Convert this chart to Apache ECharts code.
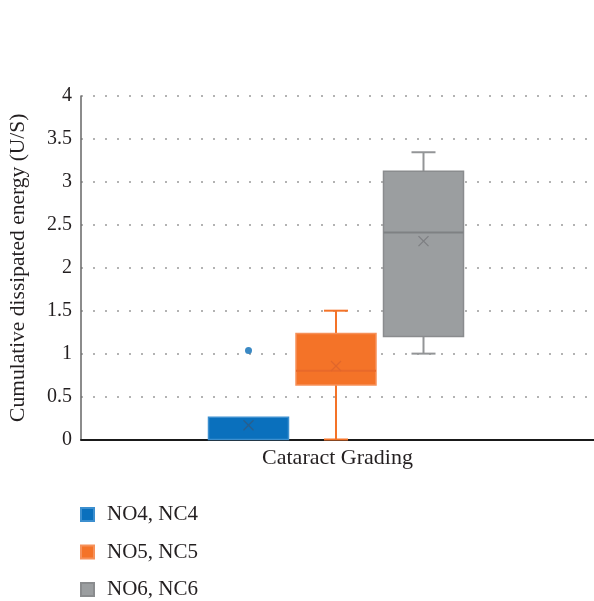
<!DOCTYPE html>
<html>
<head>
<meta charset="utf-8">
<script src="https://cdn.jsdelivr.net/npm/echarts@6/dist/echarts.min.js"></script>
<style>html,body{margin:0;padding:0;background:#fff;}#c{width:594px;height:601px;}</style>
</head>
<body>
<div id="c"></div>
<script>
// ---- data ----
const categories = ['Cataract Grading'];
const seriesNames = ['NO4, NC4', 'NO5, NC5', 'NO6, NC6'];
// [min, Q1, median, Q3, max, mean]
const boxNO4 = [0, 0, 0, 0.26, 0.26, 0.165];
const boxNO5 = [0, 0.635, 0.80, 1.235, 1.50, 0.855];
const boxNO6 = [1.00, 1.20, 2.41, 3.125, 3.345, 2.31];
const outliersNO4 = [1.035];
const yTicks = {min: 0, max: 4, interval: 0.5};

// ---- styles ----
const FONT = 'Liberation Serif';
const TEXT = '#231f20';
const styles = [
  {fill: '#0a70bd', stroke: '#3c8fcf', median: '#0a70bd', whisker: '#0a70bd', mean: '#2a5f8c', offset: -89},
  {fill: '#f47328', stroke: '#f6915a', median: '#e8692a', whisker: '#f47328', mean: '#e0672b', offset: -1.5},
  {fill: '#9b9ea0', stroke: '#8a8c8e', median: '#7f8183', whisker: '#939597', mean: '#7d7f81', offset: 86}
];
const BOX_W = 80, CAP_W = 24;

const boxes = [boxNO4, boxNO5, boxNO6];

function makeRender(si) {
  const st = styles[si];
  return function (params, api) {
    const cat = api.value(0);
    const cx = api.coord([cat, 0])[0] + st.offset;
    const Y = v => api.coord([cat, v])[1];
    const mn = api.value(1), q1 = api.value(2), md = api.value(3), q3 = api.value(4), mx = api.value(5), mean = api.value(6);
    const children = [];
    const lw = 2;
    if (mx > q3) {
      children.push({type: 'line', shape: {x1: cx, y1: Y(q3), x2: cx, y2: Y(mx)}, style: {stroke: st.whisker, lineWidth: lw}});
      children.push({type: 'line', shape: {x1: cx - CAP_W / 2, y1: Y(mx), x2: cx + CAP_W / 2, y2: Y(mx)}, style: {stroke: st.whisker, lineWidth: lw}});
    }
    if (mn < q1) {
      children.push({type: 'line', shape: {x1: cx, y1: Y(q1), x2: cx, y2: Y(mn)}, style: {stroke: st.whisker, lineWidth: lw}});
      children.push({type: 'line', shape: {x1: cx - CAP_W / 2, y1: Y(mn), x2: cx + CAP_W / 2, y2: Y(mn)}, style: {stroke: st.whisker, lineWidth: lw}});
    }
    const yTop = Y(q3), yBot = Y(q1);
    children.push({type: 'rect', shape: {x: cx - BOX_W / 2, y: yTop, width: BOX_W, height: yBot - yTop},
      style: {fill: st.fill, stroke: st.stroke, lineWidth: 1.5}});
    if (md > q1 && md < q3) {
      children.push({type: 'line', shape: {x1: cx - BOX_W / 2, y1: Y(md), x2: cx + BOX_W / 2, y2: Y(md)}, style: {stroke: st.median, lineWidth: 2}});
    }
    const ym = Y(mean), s = 5;
    children.push({type: 'line', shape: {x1: cx - s, y1: ym - s, x2: cx + s, y2: ym + s}, style: {stroke: st.mean, lineWidth: 1.3}});
    children.push({type: 'line', shape: {x1: cx - s, y1: ym + s, x2: cx + s, y2: ym - s}, style: {stroke: st.mean, lineWidth: 1.3}});
    return {type: 'group', children: children};
  };
}

const series = boxes.map((b, i) => ({
  name: seriesNames[i],
  type: 'custom',
  renderItem: makeRender(i),
  itemStyle: {color: styles[i].fill, borderColor: styles[i].stroke, borderWidth: 1},
  encode: {x: 0, y: [1, 2, 3, 4, 5]},
  data: [[0].concat(b)],
  z: 3
}));
series.push({
  name: 'outliers',
  type: 'scatter',
  symbol: 'circle',
  symbolSize: 7,
  symbolOffset: [styles[0].offset, 0],
  itemStyle: {color: '#0a6cb5'},
  data: outliersNO4.map(v => [0, v]),
  z: 4
});

const chart = echarts.init(document.getElementById('c'), null, {renderer: 'canvas'});
chart.setOption({
  animation: false,
  backgroundColor: '#fff',
  textStyle: {fontFamily: FONT, color: TEXT},
  grid: {left: 81, right: 0, top: 96, bottom: 161.5, containLabel: false, outerBoundsMode: 'none'},
  legend: {
    data: seriesNames,
    orient: 'vertical',
    left: 80,
    top: 504,
    height: 200,
    padding: 0,
    icon: 'rect',
    itemWidth: 13,
    itemHeight: 13,
    itemGap: 16.5,
    textStyle: {fontFamily: FONT, fontSize: 21, color: TEXT, padding: [0, 0, 0, 8]}
  },
  xAxis: {
    type: 'category',
    data: categories,
    axisLine: {lineStyle: {color: '#1a1a1a', width: 2}},
    axisTick: {show: false},
    axisLabel: {fontFamily: FONT, fontSize: 22, color: TEXT, margin: 8},
    splitLine: {show: false}
  },
  yAxis: {
    type: 'value',
    min: yTicks.min,
    max: yTicks.max,
    interval: yTicks.interval,
    name: 'Cumulative dissipated energy (U/S)',
    nameLocation: 'middle',
    nameGap: 52,
    nameTextStyle: {fontFamily: FONT, fontSize: 21.5, color: TEXT},
    axisLine: {show: true, lineStyle: {color: '#666', width: 1.5}},
    axisTick: {show: false},
    axisLabel: {fontFamily: FONT, fontSize: 20, color: TEXT, margin: 9},
    splitLine: {show: true, lineStyle: {color: '#9a9a9a', width: 1.5, type: [2, 10]}}
  },
  series: series
});
</script>
</body>
</html>
